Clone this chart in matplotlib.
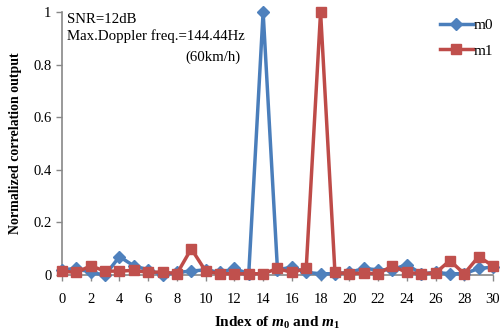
import numpy as np
import matplotlib.pyplot as plt

plt.rcParams['font.family'] = 'Liberation Serif'
plt.rcParams['mathtext.fontset'] = 'custom'
plt.rcParams['mathtext.rm'] = 'Liberation Serif:bold'
plt.rcParams['mathtext.it'] = 'Liberation Serif:bold:italic'

# Correlation outputs
index = list(range(31))
m0 = [0.02, 0.025, 0.01, 0.0, 0.07, 0.035, 0.02, 0.0, 0.01, 0.015,
      0.02, 0.01, 0.025, 0.005, 1.0, 0.02, 0.03, 0.01, 0.005, 0.005,
      0.01, 0.025, 0.02, 0.02, 0.04, 0.005, 0.01, 0.005, 0.005, 0.025, 0.03]
m1 = [0.015, 0.01, 0.035, 0.015, 0.015, 0.018, 0.01, 0.012, 0.005, 0.1,
      0.015, 0.005, 0.005, 0.005, 0.005, 0.025, 0.01, 0.025, 1.0, 0.01,
      0.005, 0.008, 0.005, 0.035, 0.01, 0.005, 0.008, 0.055, 0.005, 0.07, 0.035]
xticks = list(range(0, 31, 2))
yticks = [0, 0.2, 0.4, 0.6, 0.8, 1]
ytick_labels = ['0', '0.2', '0.4', '0.6', '0.8', '1']

fig = plt.figure(figsize=(5.02, 3.33), dpi=100)
ax = fig.add_axes([0.1235, 0.174, 0.8585, 0.79])

ax.plot(index, m0, color='#4A7EBB', lw=2.5, marker='D', ms=6,
        mfc='#4F81BD', mec='#4F81BD', label='m0', clip_on=False, zorder=3)
ax.plot(index, m1, color='#BE4B48', lw=2.5, marker='s', ms=7,
        mfc='#C0504D', mec='#C0504D', label='m1', clip_on=False, zorder=3)

ax.set_xlim(0, 30)
ax.set_ylim(0, 1)
ax.set_xticks(xticks)
ax.set_yticks(yticks)
ax.set_yticklabels(ytick_labels)
ax.tick_params(labelsize=10.5, color='#888888', length=4, width=1)
ax.tick_params(axis='x', pad=9)
for s in ['top', 'right']:
    ax.spines[s].set_visible(False)
for s in ['left', 'bottom']:
    ax.spines[s].set_color('#888888')
    ax.spines[s].set_linewidth(1.2)

ax.set_ylabel('Normalized correlation output', fontsize=10, fontweight='bold',
              labelpad=8)
ax.set_xlabel(r'Index of $m_\mathregular{0}$ and $m_\mathregular{1}$',
              fontsize=11, fontweight='bold', labelpad=6)

ax.text(0.35, 0.995, 'SNR=12dB\nMax.Doppler freq.=144.44Hz', fontsize=10.7,
        va='top', ha='left', linespacing=1.3)
ax.text(12.45, 0.855, '(60km/h)', fontsize=10.7, va='top', ha='right')

fig.legend(loc='upper left', bbox_to_anchor=(0.85, 0.985), frameon=False,
           fontsize=11, handlelength=2.1, handletextpad=0.1, labelspacing=0.75)

fig.savefig('out.png', dpi=100)
